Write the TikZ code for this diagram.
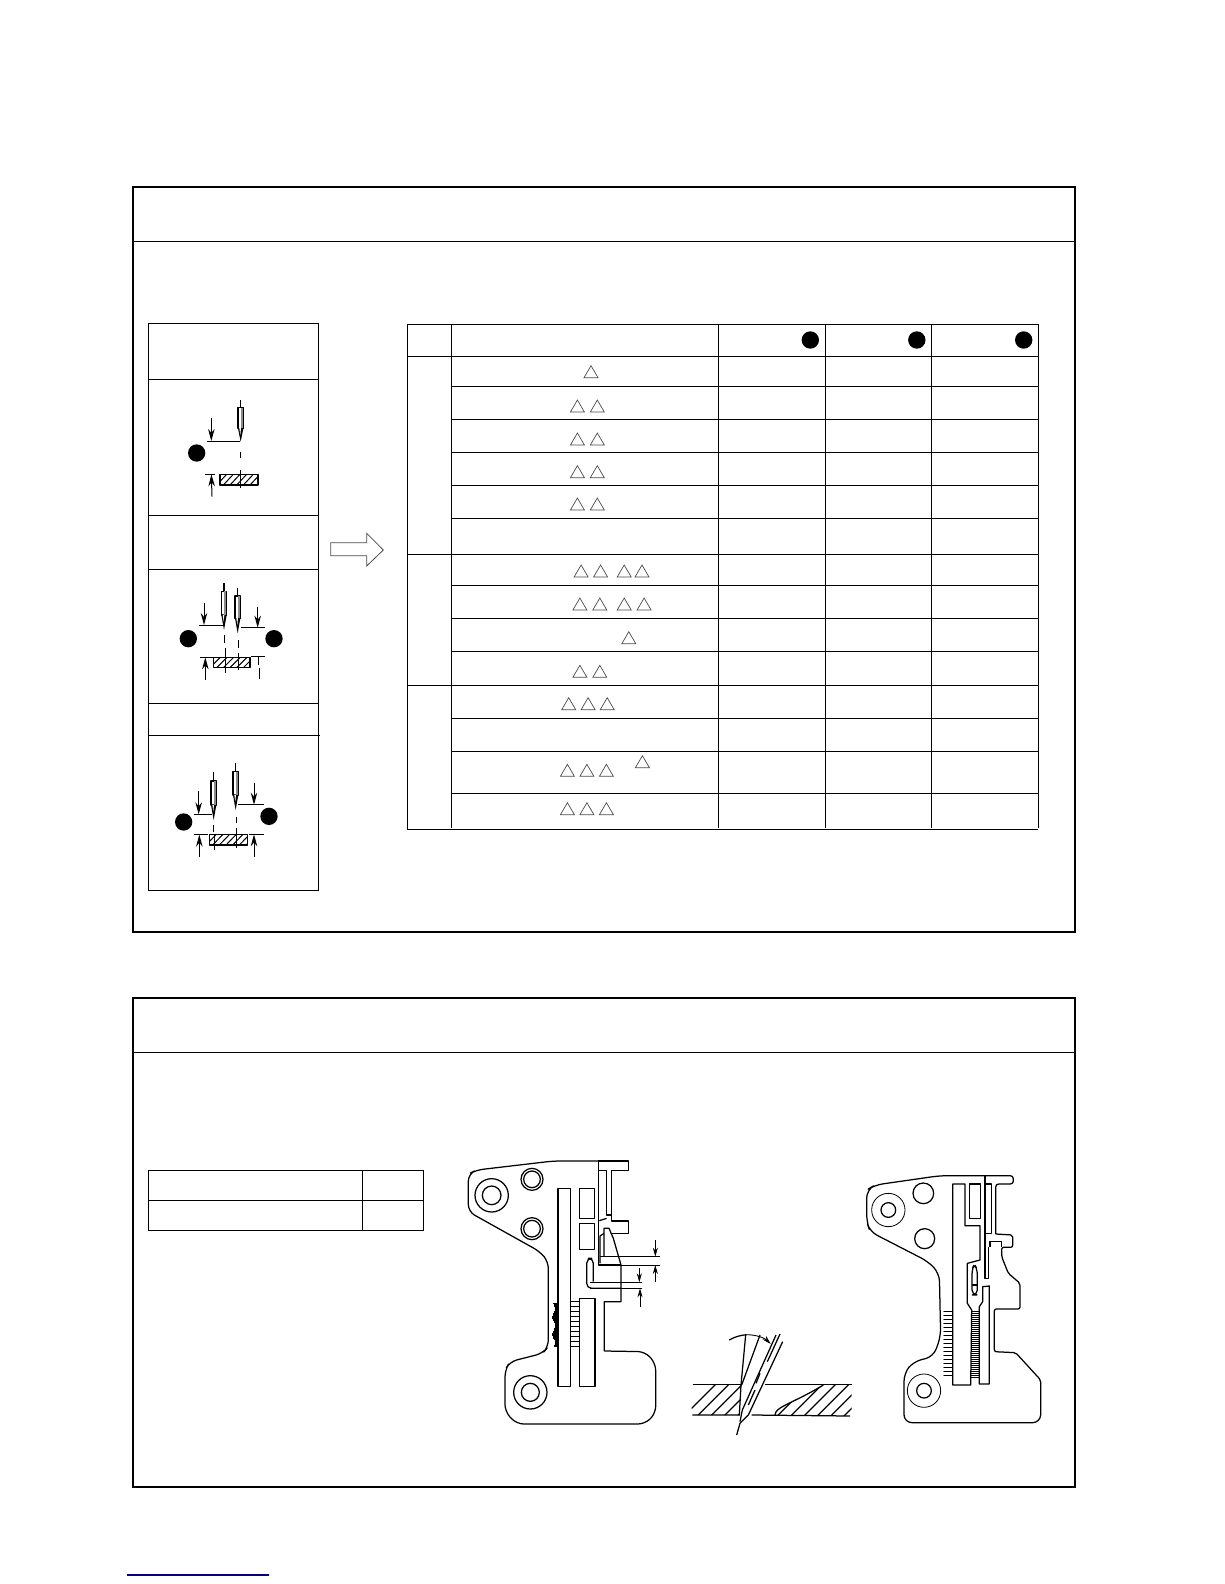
\documentclass[tikz,border=0pt]{standalone}
\usetikzlibrary{arrows.meta}
\tikzset{
  frameline/.style={line width=1.6pt,black},
  headline/.style={line width=1pt,black},
  gridline/.style={line width=1.15pt,black},
  lefttable/.style={line width=1pt,black},
  tri/.style={line width=0.7pt,black!70},
  part/.style={line width=1.25pt,black,line join=round},
  thin part/.style={line width=0.8pt,black},
  dim/.style={line width=1pt,black},
  dimhead/.style={line width=1pt,black,-{Stealth[length=12pt,width=6.5pt]}},
  smallhead/.style={line width=0.9pt,black,-{Stealth[length=9pt,width=5pt]}},
  zoomgrid/.style={x=0.33333pt,y=-0.33333pt},
}
\newcommand{\tria}[2]{\draw[tri] ({#1-7},#2) -- (#1,{#2-12}) -- ({#1+7},#2) -- cycle;}
\newcommand{\needle}[5]{% xc, axis top, shank top, shank bottom, tip
  \draw[part] (#1,#2) -- (#1,#3);
  \draw[part] ({#1-8},#3) rectangle ({#1+8},#4);
  \fill[black!45] ({#1},#3) rectangle ({#1+6},#4);
  \fill[black] ({#1-8},#4) -- ({#1+8},#4) -- (#1,#5) -- cycle;
  \fill[white] ({#1-4},{#4-1}) -- ({#1+1},{#4-1}) -- ({#1-1},{#4+20}) -- cycle;
}
\newcommand{\hatchplate}[4]{% x1,y1,x2,y2
  \begin{scope}
    \clip (#1,#2) rectangle (#3,#4);
    \foreach \hx in {0,20,...,180} {
      \draw[line width=1pt] ({#1-30+\hx},#4) -- ({#1+\hx},#2);
    }
  \end{scope}
  \draw[part] (#1,#2) rectangle (#3,#4);
}
\begin{document}
\begin{tikzpicture}[x=1pt,y=-1pt]
\useasboundingbox (0,0) rectangle (1224,1584);
\fill[white] (0,0) rectangle (1224,1584);

% outer frames
\draw[frameline] (133,187) rectangle (1075,932);
\draw[headline] (133,241.7) -- (1075,241.7);
\draw[frameline] (133,998) rectangle (1075,1487);
\draw[headline] (133,1052.7) -- (1075,1052.7);

% left table
\draw[lefttable] (148.5,323) rectangle (318,890);
\foreach \yy in {379.3,515.3,569.3,703.3} \draw[lefttable] (148.5,\yy) -- (318,\yy);
\draw[lefttable] (148.5,735.3) -- (320,735.3);

% right table
\draw[gridline] (407.5,324.3) -- (1038.2,324.3);
\draw[gridline] (407.5,324.3) -- (407.5,829.3) -- (1038.2,829.3);
\draw[gridline] (1038.2,324.3) -- (1038.2,828);
\foreach \xx in {451.4,718.7,825.2,931.3} \draw[gridline] (\xx,324.3) -- (\xx,828);
\foreach \yy in {356.3,554.3,685.3} \draw[gridline] (407.5,\yy) -- (1038.2,\yy);
\foreach \yy in {386.3,419.3,452.3,485.3,518.3,585.3,618.3,651.3,718.3,751.3,793.3} \draw[gridline] (451.4,\yy) -- (1038.2,\yy);
\foreach \xx in {810.3,916.8,1023.7} \fill (\xx,340) circle (8.7);

% triangles
\tria{591}{377.7}
\foreach \xx in {577.4,597.3} {\tria{\xx}{412}\tria{\xx}{445}\tria{\xx}{477.7}\tria{\xx}{510}}
\foreach \xx in {581.1,600.6,624.2,642} {\tria{\xx}{577}}
\foreach \xx in {579.9,599.8,624.2,644.1} {\tria{\xx}{610}}
\tria{628.8}{643.7}
\foreach \xx in {579.9,599.8} {\tria{\xx}{677.3}}
\foreach \xx in {568.7,588.1,607.2} {\tria{\xx}{709.7}}
\foreach \xx in {567.4,586.9,606.4} {\tria{\xx}{776.3}\tria{\xx}{814.7}}
\tria{642.4}{767.7}

% block arrow
\draw[line width=0.8pt,black!70] (330.7,542.7) -- (366.7,542.7) -- (366.7,533.3) -- (383.3,550) -- (366.7,566) -- (366.7,555.7) -- (330.7,555.7) -- cycle;

% needle diagrams
\begin{scope}[shift={(140,370)},zoomgrid]
  % diagram 1
  \fill (170,249) circle (26);
  \needle{302}{90}{113}{175}{215}
  \draw[dim] (302,245) -- (302,265) (302,300) -- (302,355);
  \draw[dim] (200,213) -- (300,213) (196,313) -- (226,313);
  \draw[dimhead] (214,145) -- (214,213);
  \draw[dimhead] (216,380) -- (214,313);
  \hatchplate{240}{313}{354}{345}
  \draw[dim] (302,300) -- (302,355);
  % diagram 2
  \fill (145,806) circle (26);
  \fill (402,806) circle (26);
  \needle{252}{640}{664}{735}{780}
  \needle{293}{655}{678}{745}{790}
  \draw[dim] (254,795) -- (254,820) (295,810) -- (295,835);
  \draw[dim] (178,765) -- (252,765) (303,773) -- (376,773) (180,862) -- (222,862) (332,860) -- (376,860);
  \hatchplate{220}{863}{330}{893}
  \draw[dim] (256,835) -- (256,910) (295,850) -- (295,900);
  \draw[dimhead] (192,700) -- (192,765);
  \draw[dimhead] (196,930) -- (196,862);
  \draw[dimhead] (353,710) -- (353,773);
  \draw[dim] (355,860) -- (355,885) (357,895) -- (357,928);
  % diagram 3
  \fill (131,1356) circle (26);
  \fill (387,1339) circle (26);
  \needle{221}{1205}{1233}{1305}{1350}
  \needle{287}{1180}{1205}{1275}{1320}
  \draw[dim] (221,1365) -- (221,1385) (288,1340) -- (288,1360);
  \draw[dim] (162,1333) -- (216,1333) (295,1304) -- (372,1304) (162,1394) -- (204,1394) (328,1393) -- (372,1393);
  \hatchplate{208}{1394}{322}{1425}
  \draw[dim] (222,1395) -- (222,1440) (288,1375) -- (288,1435);
  \draw[dimhead] (176,1263) -- (176,1333);
  \draw[dimhead] (178,1460) -- (178,1394);
  \draw[dimhead] (342,1238) -- (342,1304);
  \draw[dimhead] (342,1460) -- (342,1393);
\end{scope}

% lower small table
\draw[lefttable] (148.5,1170.5) rectangle (423,1230);
\draw[lefttable] (148.5,1200.8) -- (423,1200.8);
\draw[lefttable] (362.6,1170.5) -- (362.6,1230);

% throat plate 1
\begin{scope}[shift={(460,1150)},zoomgrid]
  \draw[part,rounded corners=7pt]
    (415,33) -- (280,33) -- (50,60) -- (25,72) -- (25,185) -- (240,305) -- (265,335)
    -- (265,590) -- (248,610) -- (150,635) -- (135,660) -- (135,785) -- (170,822)
    -- (555,822) -- (587,790) -- (587,640) -- (555,605) -- (433,603);
  \draw[part] (433,603) -- (433,455) -- (483,455) -- (483,345) -- (460,265) -- (447,235) -- (432,235) -- (432,320);
  \draw[part] (415,33) -- (505,33) -- (505,62) -- (455,62) -- (455,213) -- (505,213) -- (505,250) -- (452,250);
  \draw[part] (415,33) -- (415,345) -- (483,345);
  \draw[part] (418,62) -- (440,62) -- (440,195) -- (455,195);
  \draw[part] (418,212) -- (440,205);
  \draw[part] (420,340) -- (420,258) -- (432,250);
  \draw[part] (95,136) circle (50) (95,136) circle (28);
  \draw[part] (216,88) circle (33) (216,88) circle (25);
  \draw[part] (216,236) circle (33) (216,236) circle (25);
  \draw[part] (211,727) circle (50) (211,727) circle (27);
  \draw[part] (294,116) rectangle (332,710);
  \draw[part] (358,445) rectangle (405,710);
  \draw[part] (358,116) rectangle (403,205);
  \draw[part] (358,220) rectangle (403,298);
  \draw[part,rounded corners=5pt] (400,395) -- (400,325) -- (380,325) -- (380,415) -- (483,415);
  \draw[thin part] (420,320) -- (600,320) (420,345) -- (600,345);
  \draw[thin part] (390,397) -- (545,397) (390,415) -- (545,415);
  \draw[smallhead] (586,270) -- (586,320);
  \draw[smallhead] (586,395) -- (586,345);
  \draw[smallhead] (538,355) -- (538,397);
  \draw[smallhead] (540,470) -- (540,415);
  \foreach \yy in {455,470,...,590} \draw[part] (332,\yy) -- (358,\yy);
  \foreach \yy in {460,464,...,590} \draw[line width=1.4pt] ({281+4*sin(\yy*7)},\yy) -- (294,\yy);
\end{scope}

% needle / cutter section
\begin{scope}[shift={(680,1320)},zoomgrid]
  \begin{scope}
    \clip (35,193) -- (185,193) -- (178,285) -- (35,285) -- cycle;
    \foreach \hx in {0,40,...,240} \draw[part] (\hx,300) -- ({\hx+120},180);
  \end{scope}
  \begin{scope}
    \clip (285,285) .. controls (285,260) and (340,250) .. (430,195) -- (515,195) -- (515,288) -- cycle;
    \foreach \hx in {240,280,...,520} \draw[part] (\hx,300) -- ({\hx+120},180);
  \end{scope}
  \draw[part] (40,193) -- (185,193) (255,193) -- (515,193);
  \draw[part] (37,285) -- (180,285) (215,285) -- (510,288);
  \draw[part] (285,285) .. controls (285,260) and (340,250) .. (430,195);
  \draw[part] (197,45) -- (183,195) -- (178,285);
  \draw[part] (240,45) -- (185,195);
  \draw[part] (288,45) -- (187,270) -- (180,305);
  \draw[part] (308,65) -- (205,285) -- (180,310) -- (170,345);
  \draw[part] (300,42) -- (262,125);
  \draw[part] (240,160) -- (228,190) (225,210) -- (205,255);
  \draw[smallhead] (200,44) .. controls (230,44) and (255,55) .. (272,72);
  \draw[part] (148,60) .. controls (165,50) and (180,46) .. (200,44);
\end{scope}

% throat plate 2
\begin{scope}[shift={(850,1160)},zoomgrid]
  \draw[part,rounded corners=2pt]
    (437,222) -- (488,225) -- (488,262) -- (455,262) -- (455,290) -- (475,340) -- (510,370)
    -- (510,447) -- (433,447) -- (433,575) -- (497,578) -- (572,660)
    [rounded corners=8pt] -- (572,788) -- (162,788) -- (162,640) -- (190,605) -- (250,590) -- (272,530) -- (268,340)
    -- (235,305) -- (60,215) -- (50,185) -- (50,90) -- (75,75) -- (270,47)
    [rounded corners=3pt] -- (490,47) -- (490,72) -- (437,72) -- (437,222);
  \draw[part] (405,47) -- (405,355) -- (415,355) -- (415,262);
  \draw[part] (420,262) -- (420,245) -- (455,245) -- (455,262);
  \draw[part] (308,72) -- (345,72) -- (345,197) -- (390,197) -- (390,300) -- (352,310) -- (352,430) -- (365,450) -- (362,675) -- (308,675) -- cycle;
  \draw[part] (358,72) rectangle (392,175);
  \draw[part] (405,72) -- (425,72) -- (425,220) -- (405,220);
  \draw[part] (398,425) -- (398,380) -- (418,378) -- (418,672) -- (388,672) -- (388,440) -- cycle;
  \draw[part,rounded corners=5pt] (366,405) -- (366,330) -- (373,310) -- (382,330) -- (382,405) -- cycle;
  \draw[part] (366,375) -- (382,375);
  \draw[thin part] (115,150) circle (50) (222,692) circle (50);
  \draw[part] (115,150) circle (22) (222,692) circle (22);
  \draw[part] (220,100) circle (31) (224,236) circle (30);
  \foreach \yy in {455,461,...,655} \draw[line width=1.3pt] (364,\yy) -- (388,\yy);
  \foreach \yy in {455,467,...,655} \draw[line width=1.4pt,line cap=round] (282,\yy) -- (305,\yy);
\end{scope}

% footer link rule
\draw[line width=1.3pt,blue!50!black] (127,1575) -- (269,1575);
\end{tikzpicture}
\end{document}
